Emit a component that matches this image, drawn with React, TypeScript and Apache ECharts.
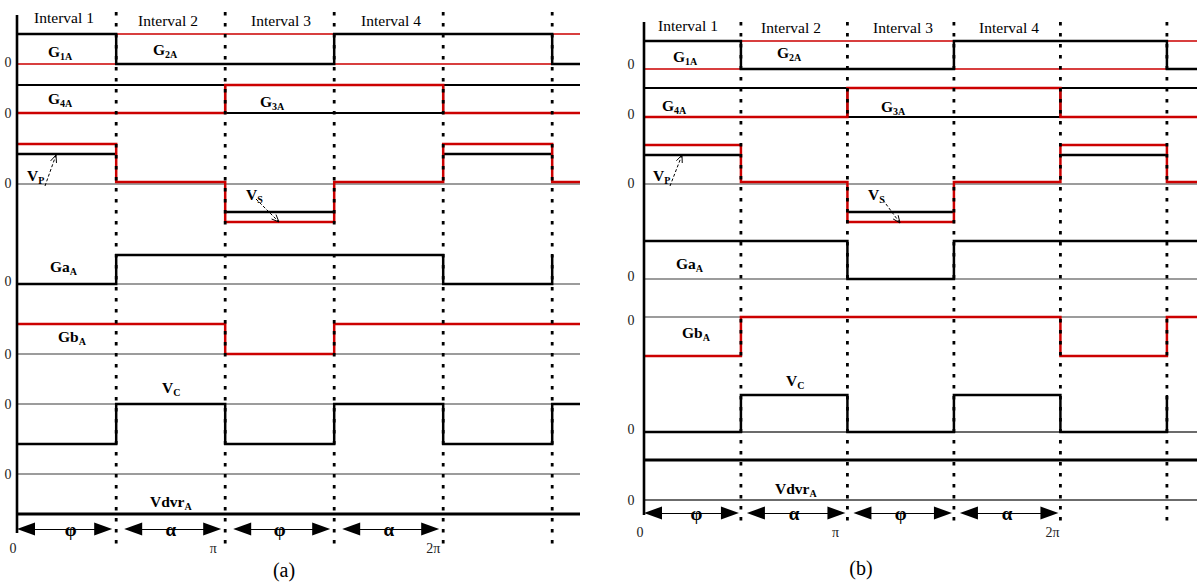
import React, { useEffect, useRef } from "react";
import * as echarts from "echarts";

// ---------- data ----------
// switching instants, in units of one interval (0, φ, π, π+φ, 2π, 2π+φ)
const switchTimes = [0, 0.91, 1.91, 2.91, 3.91, 4.91];
const intervalNames = ["Interval 1", "Interval 2", "Interval 3", "Interval 4"];
const phaseTickLabels = ["0", "π", "2π"];
const phaseTickTimes = [0, 1.91, 3.91];
const spanLabels = ["φ", "α", "φ", "α"];

// logic states per segment: [I1, I2, I3, I4, I1', I2']
const g1A = [1, 0, 0, 1, 1, 0];
const g2A = [0, 1, 1, 0, 0, 1];
const g4A = [1, 1, 0, 0, 1, 1];
const g3A = [0, 0, 1, 1, 0, 0];
const vOuter = [1, 0, -1, 0, 1, 0]; // Vp / Vs (red)
const vInner = [1, null, -1, null, 1, null]; // Vp / Vs (black)
const gaA_a = [0, 1, 1, 1, 0, 1];
const gbA_a = [1, 1, 0, 1, 1, 1];
const vc_a = [0, 1, 0, 1, 0, 1];
const gaA_b = [1, 1, 0, 1, 1, 1];
const gbA_b = [0, 1, 1, 1, 0, 1];
const vc_b = [0, 1, 0, 1, 0, 1];

const RED = "#cc0000";
const BLACK = "#000";
const SERIF = '"Liberation Serif", "Times New Roman", serif';

// ---------- layout (pixel positions, sizes) ----------
const layouts = [
  {
    left: 17, width: 563, unit: 109,
    axisTop: 15, axisBottom: 533, dotTop: 12, dotBottom: 548,
    g12: { hi: 34, lo: 64 }, g43: { hi: 85, lo: 113 },
    v: { redHi: 144, blackHi: 154, redMid: 182, blackLo: 212, redLo: 222 },
    ga: { hi: 255, lo: 284 }, gb: { hi: 324, lo: 354 }, vc: { hi: 404, lo: 444 },
    states: { ga: gaA_a, gb: gbA_a, vc: vc_a }, gaEdge: true, vcEdge: false,
    zeros: [
      { y: 184, w: 1.2 }, { y: 284, w: 1.2 }, { y: 354, w: 1.2 },
      { y: 404, w: 1.2 }, { y: 474, w: 1.2 }, { y: 514, w: 2.8, c: BLACK },
    ],
    arrowY: 529, arrowIn0: 8, arrowOut: 4,
    zeroLabelX: 8, zeroLabelYs: [62, 113, 183, 281, 354, 404, 474],
    phaseY: 548, phaseDx: [-4, -12, -10],
    intervals: [[64, 17], [168, 20], [281, 20], [391, 20]],
    labels: {
      g1: [48, 51], g2: [153, 49], g4: [48, 98], g3: [260, 101], vp: [27, 175], vs: [246, 194],
      ga: [50, 266], gb: [58, 336], vc: [162, 387], vdvr: [150, 501],
    },
    vpArrow: [[45, 186], [56, 155]], vsArrow: [[256, 199], [279, 222]],
    caption: ["(a)", 284, 570],
  },
  {
    left: 644, width: 553, unit: 106.5,
    axisTop: 22, axisBottom: 515, dotTop: 22, dotBottom: 528,
    g12: { hi: 41, lo: 69 }, g43: { hi: 88, lo: 117 },
    v: { redHi: 145, blackHi: 155, redMid: 182, blackLo: 212, redLo: 222 },
    ga: { hi: 241, lo: 279 }, gb: { hi: 317, lo: 356 }, vc: { hi: 395, lo: 432 },
    states: { ga: gaA_b, gb: gbA_b, vc: vc_b }, gaEdge: false, vcEdge: true,
    zeros: [
      { y: 184, w: 1.2 }, { y: 279, w: 1.2 }, { y: 317, w: 1.2 },
      { y: 432, w: 1.6 }, { y: 460, w: 3, c: BLACK }, { y: 500, w: 1.6 },
    ],
    arrowY: 513, arrowIn0: 6, arrowOut: 2,
    zeroLabelX: 631, zeroLabelYs: [64, 114, 183, 276, 320, 429, 500],
    phaseY: 532, phaseDx: [-4, -12, -8],
    intervals: [[688, 25], [791, 27], [903, 27], [1009, 27]],
    labels: {
      g1: [673, 56], g2: [777, 52], g4: [662, 105], g3: [881, 106], vp: [653, 175], vs: [868, 194],
      ga: [676, 263], gb: [682, 332], vc: [786, 380], vdvr: [775, 488],
    },
    vpArrow: [[670, 186], [682, 155]], vsArrow: [[883, 200], [900, 223]],
    caption: ["(b)", 861, 568],
  },
];

function stepPoints(states: (number | null)[], levelOf: (s: number) => number, xmax: number, edgeTail = false) {
  const edges = [...switchTimes, xmax];
  const pts: any[] = [];
  states.forEach((s, i) => {
    if (s === null) {
      pts.push([edges[i], "-"]);
      return;
    }
    const y = levelOf(s);
    pts.push([edges[i], y]);
    if (!(edgeTail && i === states.length - 1)) pts.push([edges[i + 1], y]);
  });
  return pts;
}

export default function App() {
  const ref = useRef<HTMLDivElement>(null);
  useEffect(() => {
    const chart = echarts.init(ref.current!, null, { renderer: "svg" });
    const ctx = document.createElement("canvas").getContext("2d")!;
    const measure = (t: string, font: string) => {
      ctx.font = font;
      return ctx.measureText(t).width;
    };

    const series: any[] = [];
    const graphics: any[] = [];
    const add = (p: number, data: any[], color: string, width: number, z = 2, type: any = "solid") =>
      series.push({
        type: "line", xAxisIndex: p, yAxisIndex: p, data, symbol: "none", showSymbol: false,
        clip: false, silent: true, z, connectNulls: false, emphasis: { disabled: true },
        lineStyle: { color, width, type, cap: "butt", join: "miter" },
      });

    const text = (t: string, x: number, y: number, font: string, align = "left", fill = BLACK) =>
      graphics.push({
        type: "text", x, y, silent: true, z: 20,
        style: { text: t, font, fill, align, verticalAlign: "middle" },
      });
    const subLabel = (main: string, sub: string, pos: number[]) => {
      const mf = `bold 15.5px ${SERIF}`;
      const sf = `bold 10px ${SERIF}`;
      text(main, pos[0], pos[1], mf);
      text(sub, pos[0] + measure(main, mf), pos[1] + 5, sf);
    };
    const arrowGlyph = (from: number[], to: number[]) => {
      graphics.push({
        type: "line", silent: true, z: 20,
        shape: { x1: from[0], y1: from[1], x2: to[0], y2: to[1] },
        style: { stroke: BLACK, lineWidth: 1, lineDash: [3, 2] },
      });
      const ang = Math.atan2(to[1] - from[1], to[0] - from[0]);
      const L = 8;
      const a1 = ang + Math.PI - 0.4;
      const a2 = ang + Math.PI + 0.4;
      graphics.push({
        type: "polyline", silent: true, z: 20,
        shape: {
          points: [
            [to[0] + L * Math.cos(a1), to[1] + L * Math.sin(a1)],
            to,
            [to[0] + L * Math.cos(a2), to[1] + L * Math.sin(a2)],
          ],
        },
        style: { stroke: BLACK, lineWidth: 1, fill: "none" },
      });
    };

    const grids: any[] = [];
    const xAxes: any[] = [];
    const yAxes: any[] = [];

    layouts.forEach((L, p) => {
      const xmax = L.width / L.unit;
      grids.push({ left: L.left, top: 0, width: L.width, height: 582 });
      xAxes.push({ gridIndex: p, type: "value", min: 0, max: xmax, show: false });
      yAxes.push({ gridIndex: p, type: "value", min: 0, max: 582, inverse: true, show: false });

      // vertical axis
      add(p, [[0, L.axisTop], [0, L.axisBottom]], BLACK, 2.6, 8);
      // zero / reference lines
      L.zeros.forEach((z: any) => add(p, [[0, z.y], [xmax, z.y]], z.c || "#3a3a3a", z.w, 1));

      // gate signals
      const gate = (lv: any) => (s: number) => (s ? lv.hi : lv.lo);
      add(p, stepPoints(g2A, gate(L.g12), xmax), RED, 1.6, 3);
      add(p, stepPoints(g1A, gate(L.g12), xmax), BLACK, 2.5, 3);
      add(p, stepPoints(g4A, gate(L.g43), xmax), BLACK, 2, 3);
      add(p, stepPoints(g3A, gate(L.g43), xmax), RED, 2.5, 3);
      // transformer voltages
      add(p, stepPoints(vInner, (s) => (s > 0 ? L.v.blackHi : L.v.blackLo), xmax), BLACK, 2.5, 3);
      add(p, stepPoints(vOuter, (s) => (s > 0 ? L.v.redHi : s < 0 ? L.v.redLo : L.v.redMid), xmax), RED, 2.5, 4);
      // Ga, Gb, Vc
      add(p, stepPoints(L.states.ga, gate(L.ga), xmax, L.gaEdge), BLACK, 2.5, 3);
      add(p, stepPoints(L.states.gb, gate(L.gb), xmax), RED, 2.5, 3);
      add(p, stepPoints(L.states.vc, gate(L.vc), xmax, L.vcEdge), BLACK, 2.5, 3);

      // dotted interval boundaries
      switchTimes.slice(1).forEach((t) =>
        add(p, [[t, L.dotTop], [t, L.dotBottom]], BLACK, 2.8, 9, [3.5, 7.5])
      );

      // span arrows (φ, α)
      const half = 9 / L.unit;
      const segs = spanLabels.map((_, i) => {
        const a = switchTimes[i] + (i === 0 ? 0 : L.arrowIn0 / L.unit) + half;
        const b = switchTimes[i + 1] - L.arrowOut / L.unit - half;
        return [{ coord: [a, L.arrowY] }, { coord: [b, L.arrowY] }];
      });
      series.push({
        type: "line", xAxisIndex: p, yAxisIndex: p, data: [], silent: true, z: 7,
        markLine: {
          silent: true, animation: false, symbol: ["triangle", "triangle"], symbolSize: [13, 18],
          lineStyle: { color: BLACK, width: 1.2, type: "solid" }, label: { show: false },
          emphasis: { disabled: true }, data: segs,
        },
      });
      spanLabels.forEach((s, i) => {
        const cx = L.left + ((switchTimes[i] + switchTimes[i + 1]) / 2) * L.unit + (i === 0 ? 4 : 0);
        text(s, cx, L.arrowY, `bold 19px ${SERIF}`, "center");
      });

      // texts
      intervalNames.forEach((n, i) => text(n, L.intervals[i][0], L.intervals[i][1], `15.5px ${SERIF}`, "center"));
      L.zeroLabelYs.forEach((y) => text("0", L.zeroLabelX, y, `14px ${SERIF}`, "center", "#222"));
      phaseTickLabels.forEach((t, i) =>
        text(t, L.left + phaseTickTimes[i] * L.unit + L.phaseDx[i], L.phaseY, `14px ${SERIF}`, "center", "#222")
      );
      const lb = L.labels;
      subLabel("G", "1A", lb.g1);
      subLabel("G", "2A", lb.g2);
      subLabel("G", "4A", lb.g4);
      subLabel("G", "3A", lb.g3);
      subLabel("V", "P", lb.vp);
      subLabel("V", "S", lb.vs);
      subLabel("Ga", "A", lb.ga);
      subLabel("Gb", "A", lb.gb);
      subLabel("V", "C", lb.vc);
      subLabel("Vdvr", "A", lb.vdvr);
      arrowGlyph(L.vpArrow[0], L.vpArrow[1]);
      arrowGlyph(L.vsArrow[0], L.vsArrow[1]);
      text(L.caption[0] as string, L.caption[1] as number, L.caption[2] as number, `20px ${SERIF}`, "center");
    });

    chart.setOption({
      animation: false,
      backgroundColor: "#fff",
      grid: grids,
      xAxis: xAxes,
      yAxis: yAxes,
      series,
      graphic: graphics,
    });
    return () => chart.dispose();
  }, []);
  return (
    <div
      ref={ref}
      style={{ position: "fixed", left: 0, top: 0, width: 1197, height: 582, background: "#fff" }}
    />
  );
}
